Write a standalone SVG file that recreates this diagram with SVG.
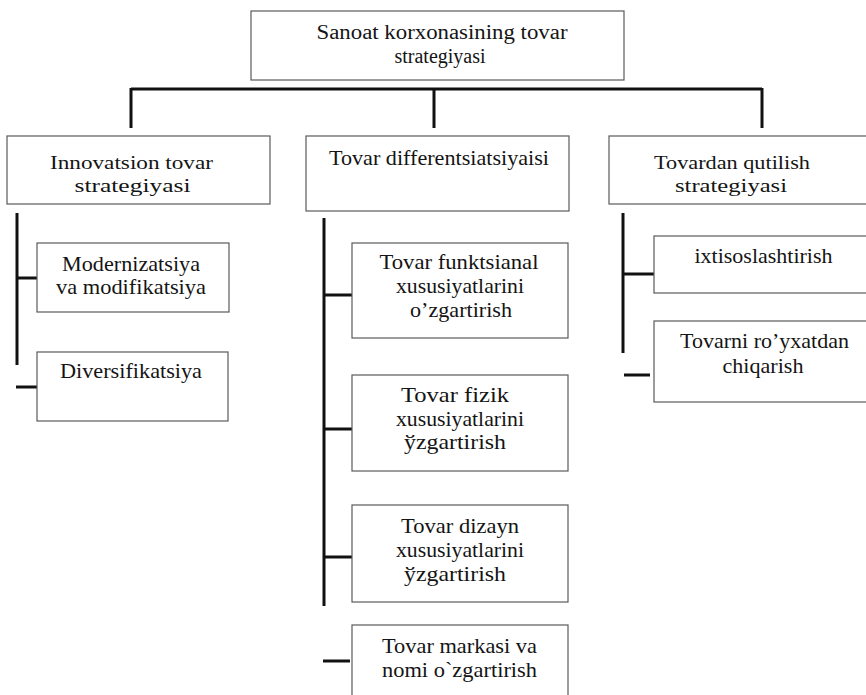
<svg xmlns="http://www.w3.org/2000/svg" width="866" height="695" viewBox="0 0 866 695">
  <style>
    .box { fill: #ffffff; stroke: #5a5a5a; stroke-width: 1.2; }
    .lbl { font-family: "Liberation Serif", "DejaVu Serif", "Times New Roman", serif; font-size: 21px; fill: #141414; text-anchor: middle; }
    .top { font-size: 20px; }
    .mid { font-size: 19px; }
    .conn { stroke: #111111; stroke-width: 3; fill: none; stroke-linecap: butt; }
  </style>
  <rect width="866" height="695" fill="#ffffff"/>

  <!-- connectors -->
  <g id="connectors">
    <!-- top bus and drops -->
    <path class="conn" d="M131 89 H762"/>
    <path class="conn" d="M131 88 V128"/>
    <path class="conn" d="M434 88 V128"/>
    <path class="conn" d="M762 88 V128"/>
    <!-- left branch -->
    <path class="conn" d="M17 213 V365"/>
    <path class="conn" d="M17 278 H37"/>
    <path class="conn" d="M16 387 H37"/>
    <!-- middle branch -->
    <path class="conn" d="M324 218 V606"/>
    <path class="conn" d="M324 295 H352"/>
    <path class="conn" d="M324 429 H352"/>
    <path class="conn" d="M324 557 H352"/>
    <path class="conn" d="M323 661 H350"/>
    <!-- right branch -->
    <path class="conn" d="M623 213 V353"/>
    <path class="conn" d="M623 274 H654"/>
    <path class="conn" d="M624 375 H650"/>
  </g>

  <g id="root">
    <rect class="box" x="251" y="11" width="373" height="69"/>
    <text class="lbl top" x="442" y="39" textLength="251" lengthAdjust="spacingAndGlyphs">Sanoat korxonasining tovar</text>
    <text class="lbl top" x="440" y="63">strategiyasi</text>
  </g>

  <g id="innovatsion">
    <rect class="box" x="7" y="136" width="263" height="68"/>
    <text class="lbl mid" x="131.5" y="169" textLength="163" lengthAdjust="spacingAndGlyphs">Innovatsion tovar</text>
    <text class="lbl mid" x="132.5" y="192" textLength="116" lengthAdjust="spacingAndGlyphs">strategiyasi</text>
  </g>

  <g id="differentsiatsiya">
    <rect class="box" x="306" y="136" width="263" height="75"/>
    <text class="lbl" x="439" y="165" textLength="220" lengthAdjust="spacingAndGlyphs">Tovar differentsiatsiyaisi</text>
  </g>

  <g id="qutilish">
    <rect class="box" x="609" y="136" width="262" height="68"/>
    <text class="lbl mid" x="732" y="169" textLength="156" lengthAdjust="spacingAndGlyphs">Tovardan qutilish</text>
    <text class="lbl mid" x="731" y="192" textLength="112" lengthAdjust="spacingAndGlyphs">strategiyasi</text>
  </g>

  <g id="modernizatsiya">
    <rect class="box" x="37" y="243" width="192" height="69"/>
    <text class="lbl" x="131" y="271" textLength="138" lengthAdjust="spacingAndGlyphs">Modernizatsiya</text>
    <text class="lbl" x="131" y="294" textLength="150" lengthAdjust="spacingAndGlyphs">va modifikatsiya</text>
  </g>

  <g id="diversifikatsiya">
    <rect class="box" x="37" y="352" width="191" height="69"/>
    <text class="lbl" x="131" y="378" textLength="142" lengthAdjust="spacingAndGlyphs">Diversifikatsiya</text>
  </g>

  <g id="funktsional">
    <rect class="box" x="352" y="243" width="216" height="95"/>
    <text class="lbl" x="459" y="269" textLength="159" lengthAdjust="spacingAndGlyphs">Tovar funktsianal</text>
    <text class="lbl" x="460" y="293" textLength="128" lengthAdjust="spacingAndGlyphs">xususiyatlarini</text>
    <text class="lbl" x="461" y="317" textLength="102" lengthAdjust="spacingAndGlyphs">o’zgartirish</text>
  </g>

  <g id="fizik">
    <rect class="box" x="352" y="375" width="216" height="96"/>
    <text class="lbl" x="455" y="402" textLength="108" lengthAdjust="spacingAndGlyphs">Tovar fizik</text>
    <text class="lbl" x="460" y="426" textLength="128" lengthAdjust="spacingAndGlyphs">xususiyatlarini</text>
    <text class="lbl" x="455" y="449" textLength="102" lengthAdjust="spacingAndGlyphs">ўzgartirish</text>
  </g>

  <g id="dizayn">
    <rect class="box" x="352" y="505" width="216" height="97"/>
    <text class="lbl" x="460" y="533" textLength="118" lengthAdjust="spacingAndGlyphs">Tovar dizayn</text>
    <text class="lbl" x="460" y="557" textLength="128" lengthAdjust="spacingAndGlyphs">xususiyatlarini</text>
    <text class="lbl" x="455" y="581" textLength="102" lengthAdjust="spacingAndGlyphs">ўzgartirish</text>
  </g>

  <g id="markasi">
    <rect class="box" x="352" y="625" width="216" height="80"/>
    <text class="lbl" x="459.5" y="653" textLength="155" lengthAdjust="spacingAndGlyphs">Tovar markasi va</text>
    <text class="lbl" x="459.5" y="677" textLength="155" lengthAdjust="spacingAndGlyphs">nomi o`zgartirish</text>
  </g>

  <g id="ixtisoslashtirish">
    <rect class="box" x="654" y="236" width="216" height="57"/>
    <text class="lbl" x="763.5" y="263" textLength="138" lengthAdjust="spacingAndGlyphs">ixtisoslashtirish</text>
  </g>

  <g id="royxatdan">
    <rect class="box" x="654" y="321" width="216" height="81"/>
    <text class="lbl" x="764.5" y="348" textLength="169" lengthAdjust="spacingAndGlyphs">Tovarni ro’yxatdan</text>
    <text class="lbl" x="763" y="373" textLength="81" lengthAdjust="spacingAndGlyphs">chiqarish</text>
  </g>
</svg>
